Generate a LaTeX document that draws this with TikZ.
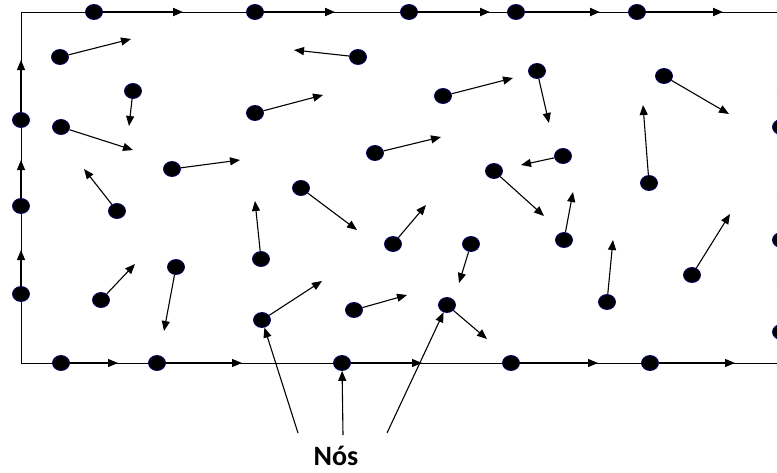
\documentclass[tikz,border=0pt]{standalone}
\usepackage{fontspec}
\setmainfont{Carlito}
\usetikzlibrary{arrows.meta,shapes.geometric}

\begin{document}
\begin{tikzpicture}[x=1pt,y=-1pt,line width=1pt,>={Triangle[length=10pt,width=8pt]},
  no/.style={ellipse,fill=black,draw=blue!40!black,line width=0.8pt,minimum width=17pt,minimum height=15pt,inner sep=0pt},
  vec/.style={->,line width=1.1pt},
  borda/.style={->,line width=2pt}]
  \useasboundingbox (0,0) rectangle (777,472);
  \clip (0,0) rectangle (777,472);
  % contorno do dominio
  \draw (21,363)--(21,12)--(781,12)--(781,363)--cycle;
  % nos do contorno
  \node[no] (l1) at (21,120){}; \coordinate (m1) at (21,60);  \draw[vec] (l1)--(m1);
  \node[no] (l2) at (21,206){}; \coordinate (m2) at (21,160); \draw[vec] (l2)--(m2);
  \node[no] (l3) at (21,294){}; \coordinate (m3) at (21,250); \draw[vec] (l3)--(m3);
  \node[no] (t1) at (94,12){};  \coordinate (u1) at (183,12); \draw[borda] (t1)--(u1);
  \node[no] (t2) at (255,12){}; \coordinate (u2) at (335,12); \draw[borda] (t2)--(u2);
  \node[no] (t3) at (409,12){}; \coordinate (u3) at (490,12); \draw[borda] (t3)--(u3);
  \node[no] (t4) at (516,12){}; \coordinate (u4) at (600,12); \draw[borda] (t4)--(u4);
  \node[no] (t5) at (637,12){}; \coordinate (u5) at (723,12); \draw[borda] (t5)--(u5);
  \node[no] (b1) at (61,363){};  \coordinate (c1) at (118,363); \draw[vec] (b1)--(c1);
  \node[no] (b2) at (157,363){}; \coordinate (c2) at (242,363); \draw[vec] (b2)--(c2);
  \node[no] (b3) at (342,363){}; \coordinate (c3) at (422,363); \draw[vec] (b3)--(c3);
  \node[no] (b4) at (511,363){}; \coordinate (c4) at (598,363); \draw[vec] (b4)--(c4);
  \node[no] (b5) at (650,363){}; \coordinate (c5) at (735,363); \draw[vec] (b5)--(c5);
  \node[no] (r1) at (781,127){}; \coordinate (s1) at (781,85);  \draw[vec] (r1)--(s1);
  \node[no] (r2) at (781,240){}; \coordinate (s2) at (781,185); \draw[vec] (r2)--(s2);
  \node[no] (r3) at (781,332){}; \coordinate (s3) at (781,277); \draw[vec] (r3)--(s3);
  % nos internos e seus deslocamentos
  \node[no] (p1) at (60,57){};   \coordinate (q1) at (131,39);   \draw[vec] (p1)--(q1);
  \node[no] (p2) at (133,91){};  \coordinate (q2) at (129,126);  \draw[vec] (p2)--(q2);
  \node[no] (p3) at (61,127){};  \coordinate (q3) at (133,150);  \draw[vec] (p3)--(q3);
  \node[no] (p4) at (172,169){}; \coordinate (q4) at (240,160);  \draw[vec] (p4)--(q4);
  \node[no] (p5) at (117,211){}; \coordinate (q5) at (84,169);   \draw[vec] (p5)--(q5);
  \node[no] (p6) at (358,57){};  \coordinate (q6) at (294,50);   \draw[vec] (p6)--(q6);
  \node[no] (p7) at (255,113){}; \coordinate (q7) at (323,95);   \draw[vec] (p7)--(q7);
  \node[no] (p8) at (375,153){}; \coordinate (q8) at (441,137);  \draw[vec] (p8)--(q8);
  \node[no] (p9) at (301,188){}; \coordinate (q9) at (357,230);  \draw[vec] (p9)--(q9);
  \node[no] (p10) at (443,96){}; \coordinate (q10) at (513,78);  \draw[vec] (p10)--(q10);
  \node[no] (p11) at (537,71){}; \coordinate (q11) at (549,123); \draw[vec] (p11)--(q11);
  \node[no] (p12) at (563,156){}; \coordinate (q12) at (521,165); \draw[vec] (p12)--(q12);
  \node[no] (p13) at (494,171){}; \coordinate (q13) at (544,216); \draw[vec] (p13)--(q13);
  \node[no] (p14) at (649,183){}; \coordinate (q14) at (643,105); \draw[vec] (p14)--(q14);
  \node[no] (p15) at (664,76){};  \coordinate (q15) at (729,114); \draw[vec] (p15)--(q15);
  \node[no] (p16) at (261,259){}; \coordinate (q16) at (255,201); \draw[vec] (p16)--(q16);
  \node[no] (p17) at (101,300){}; \coordinate (q17) at (135,264); \draw[vec] (p17)--(q17);
  \node[no] (p18) at (176,267){}; \coordinate (q18) at (164,331); \draw[vec] (p18)--(q18);
  \node[no] (p19) at (262,320){}; \coordinate (q19) at (322,281); \draw[vec] (p19)--(q19);
  \node[no] (p20) at (393,244){}; \coordinate (q20) at (426,205); \draw[vec] (p20)--(q20);
  \node[no] (p21) at (354,310){}; \coordinate (q21) at (407,295); \draw[vec] (p21)--(q21);
  \node[no] (p22) at (471,244){}; \coordinate (q22) at (459,283); \draw[vec] (p22)--(q22);
  \node[no] (p23) at (447,305){}; \coordinate (q23) at (487,339); \draw[vec] (p23)--(q23);
  \node[no] (p24) at (564,240){}; \coordinate (q24) at (573,192); \draw[vec] (p24)--(q24);
  \node[no] (p25) at (607,302){}; \coordinate (q25) at (613,240); \draw[vec] (p25)--(q25);
  \node[no] (p26) at (692,275){}; \coordinate (q26) at (730,214); \draw[vec] (p26)--(q26);
  % legenda
  \node[font=\bfseries\fontsize{28}{30}\selectfont,anchor=base,inner sep=1pt] (nos) at (336,465){Nós};
  \coordinate (n1) at (298,433); \coordinate (n2) at (343,435); \coordinate (n3) at (387,433);
  \draw[vec] (n1)--(p19);
  \draw[vec] (n2)--(b3);
  \draw[vec] (n3)--(p23);
\end{tikzpicture}
\end{document}
